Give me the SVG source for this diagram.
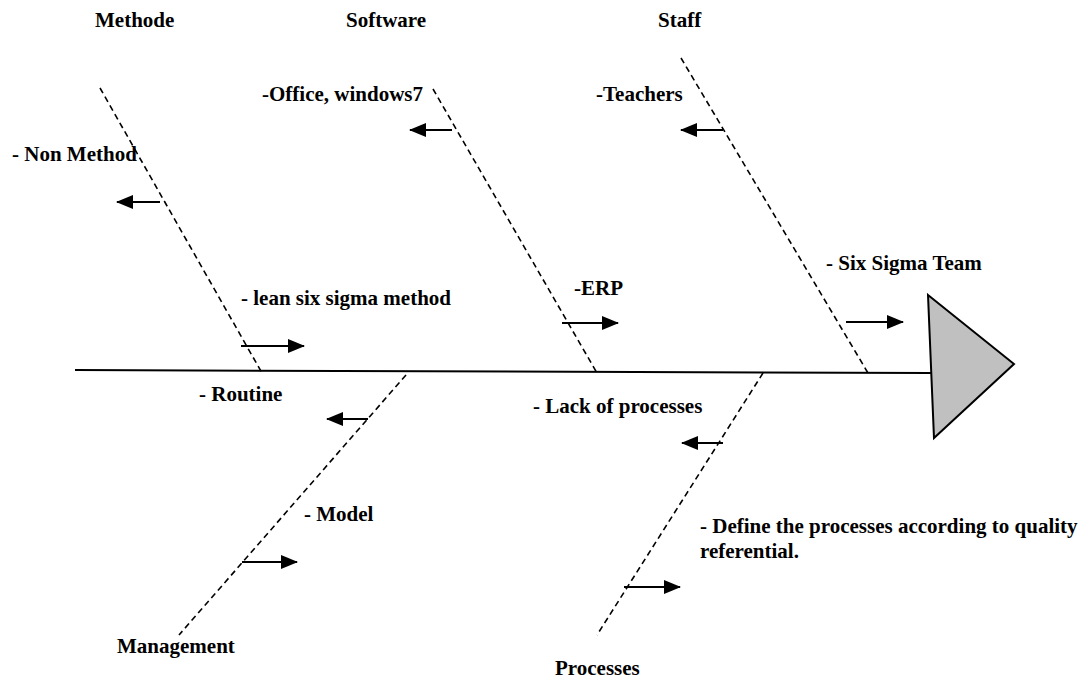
<svg xmlns="http://www.w3.org/2000/svg" width="1087" height="679" viewBox="0 0 1087 679">
  <style>
    text { font-family: "Liberation Serif", "Times New Roman", serif; font-weight: bold; font-size: 21px; fill: #000; }
    .bone { stroke: #000; stroke-width: 1.6; stroke-dasharray: 6 4; fill: none; }
    .spine { stroke: #000; stroke-width: 2; fill: none; }
    .cause { stroke: #000; stroke-width: 2.2; fill: none; marker-end: url(#ah); }
  </style>
  <defs>
    <marker id="ah" markerUnits="userSpaceOnUse" markerWidth="17" markerHeight="14" refX="16" refY="7" orient="auto">
      <path d="M0,0 L17,7 L0,14 z" fill="#000"/>
    </marker>
  </defs>
  <rect width="1087" height="679" fill="#fff"/>

  <g id="connectors">
    <line class="spine" x1="75" y1="370" x2="931" y2="373"/>
    <line class="bone" x1="100" y1="88" x2="262" y2="373"/>
    <line class="bone" x1="433" y1="89" x2="597" y2="373"/>
    <line class="bone" x1="681" y1="58" x2="868" y2="373"/>
    <line class="bone" x1="406" y1="375" x2="179" y2="635"/>
    <line class="bone" x1="763" y1="373" x2="597" y2="635"/>
    <line class="cause" x1="160" y1="202" x2="117" y2="202"/>
    <line class="cause" x1="241" y1="346" x2="304" y2="346"/>
    <line class="cause" x1="452" y1="130" x2="410" y2="130"/>
    <line class="cause" x1="562" y1="323" x2="618" y2="323"/>
    <line class="cause" x1="723" y1="130" x2="681" y2="130"/>
    <line class="cause" x1="846" y1="322" x2="903" y2="322"/>
    <line class="cause" x1="368" y1="419" x2="327" y2="419"/>
    <line class="cause" x1="242" y1="562" x2="297" y2="562"/>
    <line class="cause" x1="723" y1="443" x2="682" y2="443"/>
    <line class="cause" x1="624" y1="587" x2="680" y2="587"/>
  </g>

  <g id="head">
    <polygon points="928,295 1014,364 934,438" fill="#c0c0c0" stroke="#000" stroke-width="2" stroke-linejoin="miter"/>
  </g>

  <g id="methode">
    <text x="95" y="27">Methode</text>
    <text x="12" y="161">- Non Method</text>
    <text x="241" y="305">- lean six sigma method</text>
  </g>
  <g id="software">
    <text x="346" y="27">Software</text>
    <text x="262" y="101">-Office, windows7</text>
    <text x="574" y="295">-ERP</text>
  </g>
  <g id="staff">
    <text x="658" y="27">Staff</text>
    <text x="596" y="101">-Teachers</text>
    <text x="826" y="270">- Six Sigma Team</text>
  </g>
  <g id="management">
    <text x="199" y="401">- Routine</text>
    <text x="304" y="521">- Model</text>
    <text x="117" y="653">Management</text>
  </g>
  <g id="processes">
    <text x="533" y="413">- Lack of processes</text>
    <text x="700" y="533">- Define the processes according to quality</text>
    <text x="700" y="558">referential.</text>
    <text x="555" y="675">Processes</text>
  </g>
</svg>
